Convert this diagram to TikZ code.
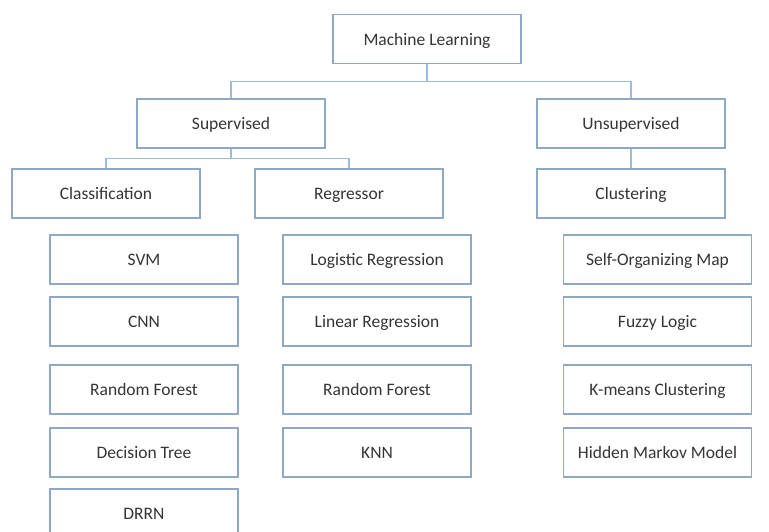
\documentclass[tikz,border=0pt]{standalone}
\usepackage{fontspec}
\setmainfont{Carlito}
\usetikzlibrary{calc}
\definecolor{boxline}{HTML}{8FA8C6}
\definecolor{linkline}{HTML}{9CBCDD}
\definecolor{txt}{HTML}{353535}
\tikzset{
  box/.style={draw=boxline, line width=1.3pt, fill=white, rectangle,
    minimum width=188pt, minimum height=49pt, inner sep=0pt,
    text height=12pt, text depth=0pt,
    text=txt, font=\fontsize{17.5}{20}\selectfont},
  link/.style={draw=linkline, line width=1.3pt}
}
\begin{document}
\begin{tikzpicture}[x=1pt, y=-1pt]
  \clip (0,0) rectangle (769,531);
  \fill[white] (0,0) rectangle (769,531);

  % top levels
  \node[box] (ml) at (427,39) {Machine Learning};
  \node[box] (sup) at (231,123.5) {Supervised};
  \node[box] (unsup) at (631,123.5) {Unsupervised};
  \node[box] (cls) at (106,193.5) {Classification};
  \node[box] (reg) at (349,193.5) {Regressor};
  \node[box] (clu) at (631,193.5) {Clustering};

  % classification methods
  \node[box] (svm) at (144,259.5) {SVM};
  \node[box] (cnn) at (144,321.5) {CNN};
  \node[box] (rf1) at (144,389.5) {Random Forest};
  \node[box] (dt)  at (144,452.5) {Decision Tree};
  \node[box] (drrn) at (144,513.5) {DRRN};

  % regression methods
  \node[box] (logr) at (377,259.5) {Logistic Regression};
  \node[box] (linr) at (377,321.5) {Linear Regression};
  \node[box] (rf2)  at (377,389.5) {Random Forest};
  \node[box] (knn)  at (377,452.5) {KNN};

  % clustering methods
  \node[box] (som) at (657.5,259.5) {Self-Organizing Map};
  \node[box] (fuz) at (657.5,321.5) {Fuzzy Logic};
  \node[box] (km)  at (657.5,389.5) {K-means Clustering};
  \node[box] (hmm) at (657.5,452.5) {Hidden Markov Model};

  % tree connectors
  \coordinate (j1) at ($(ml.south)!0.5!(ml.south |- sup.north)$);
  \draw[link] (ml.south) -- (j1) -| (sup.north);
  \draw[link] (j1) -| (unsup.north);

  \coordinate (j2) at ($(sup.south)!0.5!(sup.south |- cls.north)$);
  \draw[link] (sup.south) -- (j2) -| (cls.north);
  \draw[link] (j2) -| (reg.north);

  \draw[link] (unsup.south) -- (clu.north);
\end{tikzpicture}
\end{document}
